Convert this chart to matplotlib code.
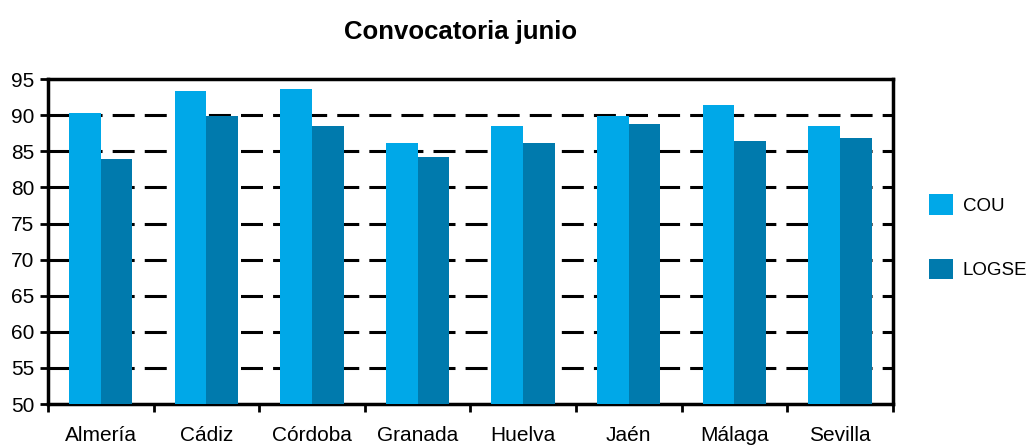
import matplotlib
matplotlib.use("Agg")
import matplotlib.pyplot as plt
import numpy as np

categories = ["Almería", "Cádiz", "Córdoba", "Granada", "Huelva", "Jaén", "Málaga", "Sevilla"]
cou = [90.3, 93.3, 93.7, 86.1, 88.5, 89.9, 91.4, 88.5]
logse = [83.9, 89.9, 88.5, 84.2, 86.1, 88.8, 86.5, 86.9]
yticks = [50, 55, 60, 65, 70, 75, 80, 85, 90, 95]

plt.rcParams['font.family'] = ['Liberation Sans', 'DejaVu Sans']

fig = plt.figure(figsize=(10.32, 4.47), dpi=100)
ax = fig.add_axes([0.0465, 0.096, 0.8185, 0.727])

x = np.arange(len(categories)) + 0.5
w = 0.3
ax.bar(x - w/2, cou, w, color="#00A8E8", label="COU", zorder=3)
ax.bar(x + w/2, logse, w, color="#007AAD", label="LOGSE", zorder=3)

ax.set_ylim(50, 95)
ax.set_xlim(0, len(categories))
ax.set_yticks(yticks)
ax.set_yticklabels([str(t) for t in yticks], fontsize=15)
ax.set_xticks(np.arange(len(categories) + 1))
ax.set_xticklabels([])
ax.set_xticks(x, minor=True)
ax.set_xticklabels(categories, minor=True, fontsize=15)
ax.tick_params(axis='x', which='minor', length=0, pad=16)
ax.tick_params(axis='x', which='major', length=6, width=2, direction='out')
ax.tick_params(axis='y', length=6, width=2, direction='out', pad=4)

for yv in yticks[1:-1]:
    ax.axhline(yv, color="black", lw=2.2, dashes=(7.2, 3.3), zorder=1)

for s in ax.spines.values():
    s.set_linewidth(2.5)
    s.set_color("black")

ax.set_title("Convocatoria junio", fontsize=18.5, fontweight="bold", pad=29, x=0.489)

leg = ax.legend(loc="center left", bbox_to_anchor=(1.043, 0.515), frameon=False,
                fontsize=13.5, handlelength=1.3, handleheight=1.3, borderpad=0,
                labelspacing=2.35, handletextpad=0.5, borderaxespad=0)

fig.savefig("out.png", dpi=100)
